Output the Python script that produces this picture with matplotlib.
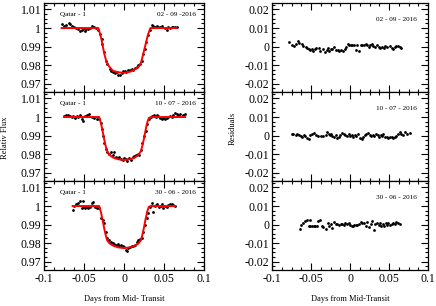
import numpy as np
import matplotlib
matplotlib.use('Agg')
import matplotlib.pyplot as plt
from matplotlib.ticker import MultipleLocator, AutoMinorLocator, FuncFormatter

plt.rcParams['font.family'] = ['Liberation Serif', 'DejaVu Serif']
plt.rcParams['axes.unicode_minus'] = False

# ---- data ----
dates_left = ['02 - 09 -2016', '10 - 07 - 2016', '30 - 06 - 2016']
dates_right = ['02 - 09 - 2016', '10 - 07 - 2016', '30 - 06 - 2016']

t1 = [-0.078, -0.075, -0.072, -0.069, -0.067, -0.065, -0.062, -0.060, -0.057, -0.055,
      -0.053, -0.051, -0.049, -0.047, -0.045, -0.043, -0.040, -0.038, -0.035, -0.032,
      -0.030, -0.028, -0.027, -0.025, -0.0225, -0.021, -0.018, -0.016, -0.014, -0.011,
      -0.009, -0.007, -0.005, -0.003, -0.001, 0.001, 0.003, 0.0055, 0.0075, 0.0095,
      0.0117, 0.0138, 0.0158, 0.018, 0.020, 0.022, 0.024, 0.026, 0.028, 0.030,
      0.0325, 0.0346, 0.0367, 0.0388, 0.041, 0.043, 0.045, 0.047, 0.0513, 0.0533,
      0.0554, 0.0575, 0.0596, 0.0617, 0.0638, 0.0658]
flux1 = [1.0022, 1.0013, 1.0017, 1.0026, 1.0022, 1.0011, 1.0007, 0.9998, 0.9994, 0.9985,
         0.9989, 0.9993, 0.9985, 0.9993, 0.9994, 0.9998, 1.0011, 1.0007, 1.0002, 0.9989,
         0.9967, 0.9943, 0.9915, 0.9869, 0.9822, 0.9804, 0.9781, 0.9770, 0.9761, 0.9757,
         0.9761, 0.9748, 0.9744, 0.9757, 0.9767, 0.9770, 0.9763, 0.9776, 0.9772, 0.9781,
         0.9776, 0.9785, 0.9789, 0.9798, 0.9807, 0.9822, 0.9859, 0.9887, 0.9924, 0.9961,
         0.9989, 1.0017, 1.0011, 1.0007, 1.0011, 1.0007, 1.0004, 1.0011, 0.9998, 0.9989,
         1.0004, 0.9998, 1.0007, 1.0004, 1.0007, 1.0004]
res1 = [0.0024, 0.0008, 0.0004, 0.0015, 0.0028, 0.0020, 0.0012, 0.0005, -0.0004, -0.0010,
        -0.0015, -0.0019, -0.0013, -0.0023, -0.0015, -0.0008, -0.0010, -0.0023, -0.0013, -0.0030,
        -0.0019, -0.0010, -0.0023, -0.0013, -0.0015, -0.0004, -0.0019, -0.0021, -0.0026, -0.0019,
        -0.0023, -0.0013, -0.0004, 0.0015, 0.0006, 0.0011, 0.0010, 0.0006, -0.0019, 0.0011,
        -0.0023, 0.0006, 0.0010, 0.0011, 0.0015, 0.0006, -0.0004, 0.0008, 0.0013, 0.0002,
        0.0000, 0.0006, -0.0004, -0.0010, 0.0000, -0.0006, 0.0002, -0.0004, 0.0004, -0.0008,
        -0.0015, -0.0004, 0.0002, 0.0004, -0.0002, -0.0006]
mt1 = [-0.078, -0.032, -0.030, -0.028, -0.026, -0.024, -0.022, -0.019, -0.014, -0.008,
       0.0, 0.008, 0.014, 0.018, 0.020, 0.022, 0.024, 0.026, 0.028, 0.030, 0.033, 0.0658]
mf1 = [1.0, 1.0, 0.997, 0.9935, 0.989, 0.985, 0.982, 0.9795, 0.977, 0.9762,
       0.9758, 0.9765, 0.9778, 0.979, 0.980, 0.9825, 0.986, 0.9895, 0.993, 0.9965, 1.0, 1.0]

t2 = [-0.075, -0.0725, -0.0696, -0.0675, -0.0654, -0.0633, -0.0613, -0.0592, -0.0571, -0.055,
      -0.0529, -0.0508, -0.0488, -0.0467, -0.0433, -0.0404, -0.0375, -0.0342, -0.0308, -0.0292,
      -0.0271, -0.0258, -0.0246, -0.0229, -0.0208, -0.0183, -0.0163, -0.0142, -0.0125, -0.010,
      -0.0079, -0.0058, -0.0038, -0.0017, 0.0, 0.0025, 0.0042, 0.0063, 0.0083, 0.0108,
      0.0129, 0.015, 0.0171, 0.0192, 0.0208, 0.0229, 0.025, 0.0271, 0.0292, 0.0313,
      0.0333, 0.0354, 0.0375, 0.0396, 0.0408, 0.0429, 0.045, 0.0471, 0.0492, 0.0513,
      0.0533, 0.0554, 0.0575, 0.0596, 0.0617, 0.0638, 0.0658, 0.0679, 0.070, 0.0733, 0.0763]
flux2 = [1.0006, 1.0009, 1.0013, 1.0006, 1.0000, 1.0006, 0.9994, 1.0006, 1.0000, 1.0013,
         0.9991, 0.9981, 1.0006, 1.0013, 1.0019, 1.0000, 0.9994, 0.9991, 0.9987, 0.9969,
         0.9935, 0.9898, 0.9861, 0.9828, 0.9809, 0.9802, 0.9809, 0.9796, 0.9809, 0.9783,
         0.9778, 0.9783, 0.9772, 0.9769, 0.9778, 0.9772, 0.9765, 0.9778, 0.9769, 0.9783,
         0.9791, 0.9796, 0.9802, 0.9796, 0.9820, 0.9861, 0.9898, 0.9926, 0.9963, 0.9987,
         1.0000, 1.0006, 1.0009, 1.0000, 1.0013, 1.0006, 0.9994, 0.9991, 0.9994, 0.9991,
         0.9994, 1.0000, 1.0006, 1.0000, 1.0009, 1.0024, 1.0019, 1.0013, 1.0019, 1.0013, 1.0019]
res2 = [0.0006, 0.0008, 0.0004, 0.0010, 0.0002, 0.0000, -0.0006, 0.0004, -0.0004, -0.0013,
        -0.0019, 0.0004, 0.0010, 0.0013, 0.0004, 0.0000, -0.0002, -0.0004, 0.0002, 0.0017,
        0.0010, 0.0004, 0.0008, 0.0000, -0.0006, 0.0002, -0.0015, -0.0008, 0.0004, 0.0013,
        0.0008, 0.0002, -0.0004, 0.0006, 0.0000, 0.0004, -0.0006, 0.0002, -0.0002, 0.0008,
        -0.0013, -0.0019, -0.0006, 0.0004, 0.0008, 0.0013, 0.0004, 0.0000, 0.0002, -0.0004,
        0.0006, 0.0002, -0.0008, 0.0004, -0.0002, 0.0006, -0.0010, -0.0006, -0.0013, -0.0006,
        -0.0008, -0.0015, -0.0010, -0.0004, 0.0006, 0.0021, 0.0010, 0.0004, 0.0019, 0.0008, 0.0013]
mt2 = [-0.075, -0.031, -0.029, -0.027, -0.025, -0.023, -0.021, -0.018, -0.013, -0.007, 0.0,
       0.007, 0.013, 0.018, 0.021, 0.023, 0.025, 0.027, 0.029, 0.031, 0.034, 0.0763]
mf2 = [1.0, 1.0, 0.997, 0.993, 0.9885, 0.9845, 0.9815, 0.9795, 0.978, 0.9772, 0.9769,
       0.9772, 0.978, 0.9795, 0.9815, 0.9845, 0.9885, 0.993, 0.997, 0.9995, 1.0, 1.0]

t3 = [-0.0642, -0.0625, -0.060, -0.0571, -0.055, -0.0529, -0.0517, -0.0508, -0.0488, -0.0467,
      -0.0446, -0.0425, -0.0404, -0.0383, -0.0363, -0.0342, -0.0308, -0.0288, -0.0267, -0.0246,
      -0.0225, -0.0208, -0.0183, -0.0163, -0.0142, -0.0121, -0.010, -0.0079, -0.0058, -0.0038,
      -0.0017, 0.0004, 0.0025, 0.0042, 0.0054, 0.0075, 0.0096, 0.0117, 0.0138, 0.0158,
      0.0179, 0.020, 0.0221, 0.0242, 0.0263, 0.0283, 0.0304, 0.0325, 0.0346, 0.0367,
      0.0388, 0.040, 0.0417, 0.0438, 0.0458, 0.0479, 0.0492, 0.0513, 0.0533, 0.0554,
      0.0575, 0.0596, 0.0617, 0.0638]
flux3 = [0.9976, 1.0000, 1.0013, 1.0019, 1.0028, 0.9991, 1.0028, 0.9994, 0.9991, 0.9994,
         0.9991, 0.9994, 1.0019, 1.0024, 0.9994, 0.9991, 0.9987, 0.9935, 0.9926, 0.9907,
         0.9861, 0.9828, 0.9815, 0.9806, 0.9802, 0.9796, 0.9791, 0.9796, 0.9787, 0.9791,
         0.9783, 0.9778, 0.9765, 0.9759, 0.9772, 0.9778, 0.9783, 0.9787, 0.9791, 0.9806,
         0.9815, 0.9820, 0.9828, 0.9861, 0.9898, 0.9935, 0.9963, 0.9994, 1.0019, 0.9969,
         1.0000, 1.0006, 1.0013, 0.9994, 1.0000, 1.0009, 0.9987, 1.0000, 0.9994, 1.0006,
         1.0013, 1.0009, 1.0006, 1.0000]
res3 = [-0.0025, -0.0004, 0.0010, 0.0017, 0.0025, -0.0010, 0.0025, -0.0008, -0.0010, -0.0008,
        -0.0010, -0.0006, 0.0019, 0.0023, -0.0006, -0.0015, -0.0023, 0.0010, -0.0010, 0.0004,
        -0.0019, 0.0013, 0.0004, 0.0002, 0.0000, 0.0002, 0.0004, 0.0000, 0.0006, 0.0002,
        0.0006, -0.0002, -0.0010, -0.0006, -0.0004, -0.0002, 0.0000, 0.0004, 0.0013, 0.0010,
        0.0008, -0.0008, 0.0013, -0.0015, 0.0004, 0.0019, -0.0030, 0.0002, 0.0010, -0.0004,
        0.0006, -0.0010, 0.0004, -0.0006, 0.0006, -0.0004, 0.0008, -0.0002, 0.0004, 0.0010,
        0.0002, 0.0013, 0.0008, 0.0002]
mt3 = [-0.0642, -0.031, -0.029, -0.027, -0.025, -0.023, -0.021, -0.018, -0.013, -0.007, 0.0,
       0.007, 0.013, 0.018, 0.021, 0.023, 0.025, 0.027, 0.029, 0.031, 0.033, 0.0638]
mf3 = [1.0, 1.0, 0.997, 0.993, 0.9885, 0.9845, 0.9815, 0.9798, 0.9785, 0.9777, 0.9773,
       0.9777, 0.9785, 0.9798, 0.9815, 0.9845, 0.9885, 0.993, 0.997, 0.9995, 1.0, 1.0]

times = [t1, t2, t3]
fluxes = [flux1, flux2, flux3]
resids = [res1, res2, res3]
model_t = [mt1, mt2, mt3]
model_f = [mf1, mf2, mf3]

fmt = FuncFormatter(lambda v, p: '%g' % round(v, 4))


def style(ax, ylim, label_x):
    ax.set_xlim(-0.1, 0.1)
    ax.set_ylim(*ylim)
    ax.xaxis.set_major_locator(MultipleLocator(0.05))
    ax.xaxis.set_minor_locator(AutoMinorLocator(4))
    ax.yaxis.set_major_locator(MultipleLocator(0.01))
    ax.yaxis.set_minor_locator(AutoMinorLocator(4))
    ax.tick_params(which='both', direction='in', top=True, right=True, labelsize=8.5, width=0.8, pad=2)
    ax.tick_params(which='major', length=5)
    ax.tick_params(which='minor', length=2.5)
    ax.xaxis.set_major_formatter(fmt)
    ax.yaxis.set_major_formatter(fmt)
    if not label_x:
        ax.tick_params(labelbottom=False)
    for s in ax.spines.values():
        s.set_linewidth(0.9)


fig = plt.figure(figsize=(4.36, 3.06), dpi=100)
W, H = 436.0, 306.0
top_px, ph = 3.0, 89.0

for i in range(3):
    bot = 1 - (top_px + ph * (i + 1)) / H
    axl = fig.add_axes([44 / W, bot, 160 / W, ph / H])
    axr = fig.add_axes([272 / W, bot, 156 / W, ph / H])

    axl.plot(times[i], fluxes[i], 'o', color='black', ms=2.0, mew=0, zorder=2)
    axl.plot(model_t[i], model_f[i], '-', color='red', lw=1.4, zorder=3)
    style(axl, (0.9655, 1.0135), i == 2)
    axl.text(0.1, 0.875, 'Qatar - 1', transform=axl.transAxes, fontsize=5.2, va='center', ha='left')
    axl.text(0.95, 0.875, dates_left[i], transform=axl.transAxes, fontsize=5.2, va='center', ha='right')

    axr.plot(times[i], resids[i], 'o', color='black', ms=2.0, mew=0)
    style(axr, (-0.0245, 0.0235), i == 2)
    axr.text(0.927, 0.817, dates_right[i], transform=axr.transAxes, fontsize=5.2, va='center', ha='right')

fig.text(5 / W, 1 - 138 / H, 'Relativ Flux', rotation=90, fontsize=6, ha='center', va='center')
fig.text(233 / W, 1 - 128 / H, 'Residuals', rotation=90, fontsize=6, ha='center', va='center')
fig.text(124 / W, 1 - 299 / H, 'Days from Mid- Transit', fontsize=6, ha='center', va='center')
fig.text(350 / W, 1 - 299 / H, 'Days from Mid-Transit', fontsize=6, ha='center', va='center')

fig.savefig('out.png', dpi=100)
